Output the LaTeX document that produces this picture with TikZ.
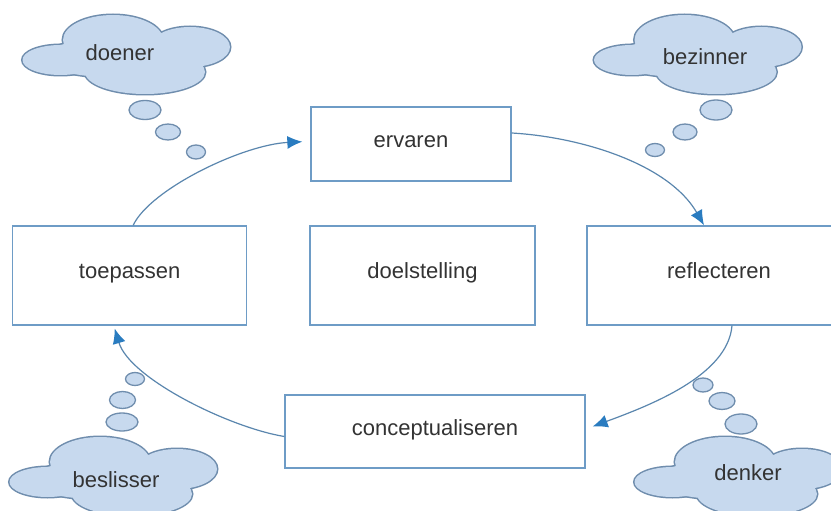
\documentclass[tikz,border=0pt]{standalone}
\usepackage{fontspec}
\setmainfont{Liberation Sans}
\usetikzlibrary{arrows.meta,calc}
\definecolor{boxblue}{HTML}{6E9CC6}
\definecolor{cloudfill}{HTML}{C7D9EE}
\definecolor{cloudline}{HTML}{6F8DAD}
\definecolor{arrline}{HTML}{5A86AE}
\definecolor{arrtip}{HTML}{2A7CC0}
\definecolor{txt}{HTML}{333333}
\tikzset{
  stagebox/.style={draw=boxblue, line width=1.3pt, fill=white, rectangle,
    font=\fontsize{22}{26}\selectfont, text=txt, text height=0.8em, text depth=0.1em},
  cloudtext/.style={font=\fontsize{22}{26}\selectfont, text=txt, inner sep=0pt},
  flow/.style={draw=arrline, line width=1.2pt, -{Latex[length=15pt,width=13pt,color=arrtip]}},
  bubble/.style={draw=cloudline, fill=cloudfill, line width=1.3pt},
  pics/thoughtcloud/.style={code={
    \foreach \dx/\dy/\ra/\rb in {-66/5/38/15, -13.5/-15/50/25, 63.5/-8/40/20, 18.5/17/60/22, -1.5/3/85/20}
      \draw[cloudline, line width=3pt] (\dx,\dy) ellipse [x radius=\ra, y radius=\rb];
    \foreach \dx/\dy/\ra/\rb in {-66/5/38/15, -13.5/-15/50/25, 63.5/-8/40/20, 18.5/17/60/22, -1.5/3/85/20}
      \fill[cloudfill] (\dx,\dy) ellipse [x radius=\ra, y radius=\rb];
  }}
}
\begin{document}
\begin{tikzpicture}[x=1pt,y=-1pt]
\useasboundingbox (0,0) rectangle (831,511);
\fill[white] (0,0) rectangle (831,511);

% clouds
\pic at (126.5,55) {thoughtcloud};
\pic at (698,55) {thoughtcloud};
\pic at (113.5,477) {thoughtcloud};
\pic at (738.5,477) {thoughtcloud};
\node[cloudtext] (doener) at (120,53) {doener};
\node[cloudtext] (bezinner) at (705,57) {bezinner};
\node[cloudtext] (beslisser) at (116,480) {beslisser};
\node[cloudtext] (denker) at (748,473) {denker};

% thought bubbles
\draw[bubble] (145,110) ellipse [x radius=16, y radius=9.5];
\draw[bubble] (168,132) ellipse [x radius=12.5, y radius=8];
\draw[bubble] (196,152) ellipse [x radius=9.5, y radius=7];

\draw[bubble] (716,110) ellipse [x radius=16, y radius=10];
\draw[bubble] (685,132) ellipse [x radius=12, y radius=8];
\draw[bubble] (655,150) ellipse [x radius=9.5, y radius=6.5];

\draw[bubble] (135,379) ellipse [x radius=9.5, y radius=6.5];
\draw[bubble] (122.5,400) ellipse [x radius=13, y radius=8.5];
\draw[bubble] (122,422) ellipse [x radius=16, y radius=9];

\draw[bubble] (703,385) ellipse [x radius=10, y radius=7];
\draw[bubble] (722,401) ellipse [x radius=13, y radius=8.5];
\draw[bubble] (741,424) ellipse [x radius=16, y radius=10];

% boxes
\node[stagebox, minimum width=200pt, minimum height=74pt] (ervaren) at (411,144) {ervaren};
\node[stagebox, minimum width=234pt, minimum height=99pt] (toepassen) at (129.7,275.4) {toepassen};
\node[stagebox, minimum width=225pt, minimum height=99pt] (doelstelling) at (422.5,275.4) {doelstelling};
\node[stagebox, minimum width=264pt, minimum height=99pt] (reflecteren) at (719,275.4) {reflecteren};
\node[stagebox, minimum width=300pt, minimum height=73pt] (conceptualiseren) at (435,431.5) {conceptualiseren};

% cycle arrows
\draw[flow] ($(toepassen.north)+(3.5,0)$) .. controls +(17,-36) and +(-60,3) .. ($(ervaren.west)+(-8,-2.3)$);
\draw[flow] ($(ervaren.east)+(0,-11)$) .. controls +(70,4) and +(-35,-61) .. ($(reflecteren.north)+(-15,0)$);
\draw[flow] ($(reflecteren.south)+(13,0)$) .. controls +(-4,50) and +(57,-21) .. ($(conceptualiseren.east)+(7,-5)$);
\draw[flow] ($(conceptualiseren.west)+(0,5)$) .. controls +(-55,-9) and +(15,50) .. ($(toepassen.south)+(-15,3)$);
\end{tikzpicture}
\end{document}
